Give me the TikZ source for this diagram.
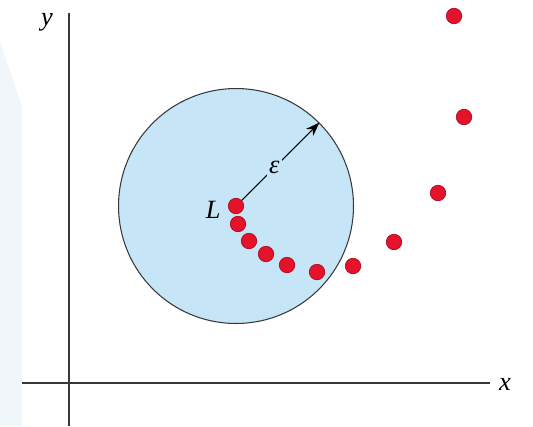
\documentclass[tikz,border=0pt]{standalone}
\usepackage{fontspec}
\setmainfont{Liberation Serif}
\usepackage{tikz}
\usetikzlibrary{arrows.meta, positioning}
\definecolor{ballblue}{HTML}{C6E6F8}
\definecolor{paleblue}{HTML}{F1F6FB}
\definecolor{dotred}{HTML}{E5122B}
\definecolor{axisgray}{HTML}{383838}

\begin{document}
\begin{tikzpicture}[
    x=0.02cm, y=-0.02cm,
    axis/.style={draw=axisgray, line width=0.7pt},
    ball/.style={circle, draw=axisgray, fill=ballblue, line width=0.6pt,
                 minimum size=4.7cm, inner sep=0pt},
    dot/.style={circle, fill=dotred, draw=dotred!75!black, line width=0.4pt,
                minimum size=0.31cm, inner sep=0pt},
    lbl/.style={font=\fontsize{15}{17}\selectfont\itshape, inner sep=1pt},
    arrow/.style={-{Stealth[length=2.8mm, width=2mm]}, line width=0.6pt, color=black}
]
\useasboundingbox (0,0) rectangle (533,426);

% pale panel on the left
\fill[paleblue] (0,42) -- (22,106) -- (22,426) -- (0,426) -- cycle;

% axes
\coordinate (xstart) at (22,383);
\coordinate (xend) at (490,383);
\coordinate (ytop) at (69,13);
\coordinate (ybot) at (69,426);
\draw[axis] (xstart) -- (xend);
\draw[axis] (ytop) -- (ybot);
\node[lbl, right=4pt of xend, yshift=-1pt] (xlabel) {x};
\node[lbl] (ylabel) at (47,22) {y};

% the neighbourhood of L
\node[ball] (ball) at (236,206) {};

% sequence
\node[dot] (a1) at (236,206) {};
\node[dot] (a2) at (238,224) {};
\node[dot] (a3) at (249,241) {};
\node[dot] (a4) at (266,254) {};
\node[dot] (a5) at (287,265) {};
\node[dot] (a6) at (317,272) {};
\node[dot] (a7) at (353,266) {};
\node[dot] (a8) at (394,242) {};
\node[dot] (a9) at (438,193) {};
\node[dot] (a10) at (464,117) {};
\node[dot] (a11) at (454,16) {};

\node[lbl, left=3pt of a1, yshift=-2pt] (limit) {L};
\draw[arrow] (a1.45) -- node[lbl, pos=0.42, fill=ballblue, inner sep=1.5pt] {ε} (ball.45);

\end{tikzpicture}
\end{document}
